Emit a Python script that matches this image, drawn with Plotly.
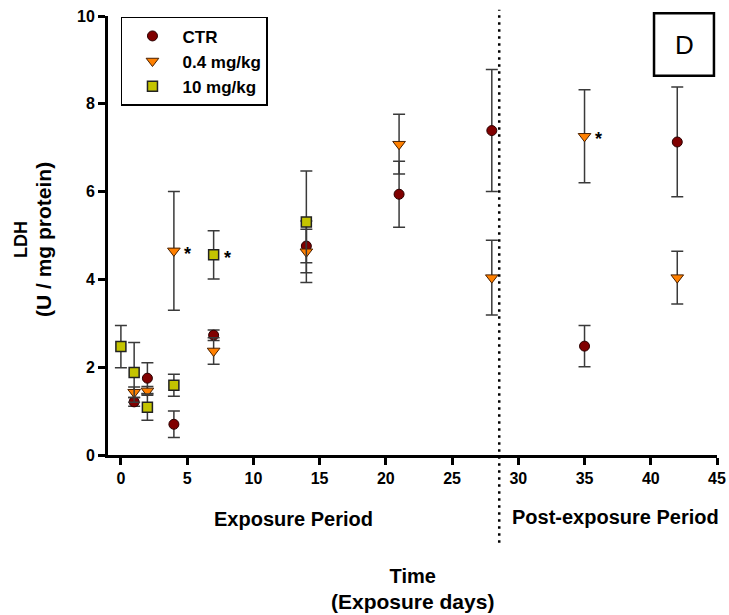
import plotly.graph_objects as go

# ---- data ----
days_ctr = [1, 2, 4, 7, 14, 21, 28, 35, 42]
ctr_mean = [1.21, 1.75, 0.70, 2.73, 4.76, 5.94, 7.39, 2.48, 7.13]
ctr_err = [0.10, 0.35, 0.30, 0.12, 0.38, 0.75, 1.39, 0.47, 1.25]

days_low = [1, 2, 4, 7, 14, 21, 28, 35, 42]
low_mean = [1.43, 1.46, 4.65, 2.37, 4.63, 7.08, 4.04, 7.26, 4.04]
low_err = [0.12, 0.10, 1.35, 0.30, 0.70, 0.68, 0.85, 1.06, 0.60]

days_high = [0, 1, 2, 4, 7, 14]
high_mean = [2.47, 1.88, 1.09, 1.59, 4.56, 5.31]
high_err = [0.48, 0.68, 0.30, 0.25, 0.55, 1.16]

star_days = [4, 7, 35]
star_vals = [4.65, 4.56, 7.26]

x_ticks = [0, 5, 10, 15, 20, 25, 30, 35, 40, 45]
y_ticks = [0, 2, 4, 6, 8, 10]
exposure_end = 28.56

FONT = "Liberation Sans"

fig = go.Figure()

err_style = dict(type="data", visible=True, color="#3a3a3a", thickness=1.5, width=6)

fig.add_trace(go.Scatter(
    x=days_ctr, y=ctr_mean, mode="markers", name="CTR",
    error_y=dict(array=ctr_err, **err_style),
    marker=dict(symbol="circle", size=10, color="#800000",
                line=dict(color="#2a0000", width=1)),
))
fig.add_trace(go.Scatter(
    x=days_low, y=low_mean, mode="markers", name="0.4 mg/kg",
    error_y=dict(array=low_err, **err_style),
    marker=dict(symbol="triangle-down", size=11, color="#FF8000",
                line=dict(color="#4a2000", width=1)),
))
fig.add_trace(go.Scatter(
    x=days_high, y=high_mean, mode="markers", name="10 mg/kg",
    error_y=dict(array=high_err, **err_style),
    marker=dict(symbol="square", size=10, color="#C4C400",
                line=dict(color="#222222", width=1.5)),
))

# significance stars
for sx, sy in zip(star_days, star_vals):
    fig.add_annotation(x=sx, y=sy, text="*", showarrow=False, xshift=14, yshift=-3,
                       font=dict(family=FONT, size=18, color="black", weight="bold"))

# dotted separator line
fig.add_shape(type="line", xref="x", yref="paper", x0=exposure_end, x1=exposure_end,
              y0=-0.20, y1=1.014, line=dict(color="black", width=2.5, dash="2.5px,4.5px"))

# panel label box "D"
fig.add_shape(type="rect", xref="paper", yref="paper", x0=0.8966, x1=0.995, y0=0.864, y1=1.006,
              line=dict(color="black", width=2.5), fillcolor="white")
fig.add_annotation(xref="paper", yref="paper", x=0.946, y=0.935, xanchor="center", yanchor="middle",
                   text="D", showarrow=False,
                   font=dict(family=FONT, size=26, color="black"))

# period labels
title_font = dict(family=FONT, size=20, color="black", weight="bold")
fig.add_annotation(xref="paper", yref="paper", x=0.305, y=-0.146, xanchor="center", yanchor="middle",
                   text="Exposure Period", showarrow=False, font=title_font)
fig.add_annotation(xref="paper", yref="paper", x=0.834, y=-0.141, xanchor="center", yanchor="middle",
                   text="Post-exposure Period", showarrow=False, font=title_font)
fig.add_annotation(xref="paper", yref="paper", x=0.50, y=-0.305, xanchor="center", yanchor="middle",
                   text="Time<br><span style='font-size:21px'>(Exposure days)</span>",
                   showarrow=False, font=title_font)
fig.add_annotation(xref="paper", yref="paper", x=-0.123, y=0.49, xanchor="center", yanchor="middle",
                   text="LDH<br><span style='font-size:21px'>(U / mg protein)</span>",
                   textangle=-90, showarrow=False,
                   font=dict(family=FONT, size=18, color="black", weight="bold"))

axis_common = dict(showgrid=False, zeroline=False, showline=True, linecolor="black", linewidth=3,
                   ticks="outside", ticklen=7, tickwidth=2.5, tickcolor="black", automargin=False,
                   tickfont=dict(family=FONT, size=16, color="black", weight="bold"))

fig.update_xaxes(range=[-0.974, 45], tickvals=x_ticks, **axis_common)
fig.update_yaxes(range=[0, 10], tickvals=y_ticks, **axis_common)

fig.update_layout(
    width=729, height=615,
    margin=dict(l=108, r=12, t=16, b=160, autoexpand=False),
    plot_bgcolor="white", paper_bgcolor="white",
    showlegend=True,
    legend=dict(x=0.0213, y=0.998, xanchor="left", yanchor="top",
                bordercolor="black", borderwidth=1.5, bgcolor="white",
                font=dict(family=FONT, size=17, color="black", weight="bold"),
                tracegroupgap=0, itemwidth=50),
)

fig.write_html("out.html")
